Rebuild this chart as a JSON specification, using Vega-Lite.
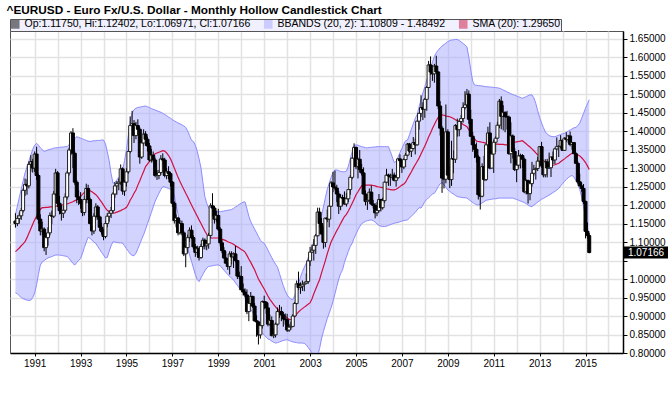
{
"$schema": "https://vega.github.io/schema/vega-lite/v6.json",
"width": 613, "height": 322,
"autosize": {"type": "none"},
"padding": {"left": 10, "top": 31, "right": 47, "bottom": 40},
"background": "white",
"title": {"text": "^EURUSD - Euro Fx/U.S. Dollar - Monthly Hollow Candlestick Chart", "anchor": "start", "font": "Liberation Sans", "fontSize": 11.8, "fontWeight": "bold", "color": "#000000", "offset": 2, "dx": -3},
"data": {"format": {"parse": {"d": "utc:'%Y-%m'"}}, "values": [
{"d":"1990-03","o":1.157,"h":1.178,"l":1.139,"c":1.150,"s":1.074,"u":1.174,"b":0.963},
{"d":"1990-04","o":1.150,"h":1.172,"l":1.143,"c":1.164,"s":1.079,"u":1.197,"b":0.960},
{"d":"1990-05","o":1.164,"h":1.180,"l":1.150,"c":1.171,"s":1.084,"u":1.220,"b":0.955},
{"d":"1990-06","o":1.171,"h":1.192,"l":1.160,"c":1.185,"s":1.090,"u":1.243,"b":0.950},
{"d":"1990-07","o":1.185,"h":1.245,"l":1.180,"c":1.240,"s":1.095,"u":1.265,"b":0.947},
{"d":"1990-08","o":1.240,"h":1.272,"l":1.225,"c":1.256,"s":1.101,"u":1.287,"b":0.945},
{"d":"1990-09","o":1.256,"h":1.270,"l":1.228,"c":1.252,"s":1.112,"u":1.303,"b":0.943},
{"d":"1990-10","o":1.252,"h":1.318,"l":1.245,"c":1.310,"s":1.124,"u":1.319,"b":0.942},
{"d":"1990-11","o":1.310,"h":1.335,"l":1.290,"c":1.318,"s":1.136,"u":1.335,"b":0.943},
{"d":"1990-12","o":1.318,"h":1.325,"l":1.288,"c":1.300,"s":1.148,"u":1.351,"b":0.950},
{"d":"1991-01","o":1.300,"h":1.345,"l":1.290,"c":1.338,"s":1.160,"u":1.362,"b":0.962},
{"d":"1991-02","o":1.338,"h":1.358,"l":1.268,"c":1.280,"s":1.170,"u":1.367,"b":0.985},
{"d":"1991-03","o":1.280,"h":1.285,"l":1.150,"c":1.162,"s":1.180,"u":1.362,"b":1.012},
{"d":"1991-04","o":1.162,"h":1.175,"l":1.118,"c":1.130,"s":1.189,"u":1.355,"b":1.038},
{"d":"1991-05","o":1.130,"h":1.155,"l":1.118,"c":1.135,"s":1.193,"u":1.350,"b":1.046},
{"d":"1991-06","o":1.135,"h":1.140,"l":1.075,"c":1.085,"s":1.193,"u":1.345,"b":1.050},
{"d":"1991-07","o":1.085,"h":1.118,"l":1.065,"c":1.112,"s":1.194,"u":1.347,"b":1.054},
{"d":"1991-08","o":1.112,"h":1.140,"l":1.090,"c":1.125,"s":1.194,"u":1.349,"b":1.057},
{"d":"1991-09","o":1.125,"h":1.180,"l":1.118,"c":1.172,"s":1.195,"u":1.351,"b":1.059},
{"d":"1991-10","o":1.172,"h":1.185,"l":1.148,"c":1.170,"s":1.195,"u":1.352,"b":1.061},
{"d":"1991-11","o":1.170,"h":1.238,"l":1.165,"c":1.230,"s":1.196,"u":1.354,"b":1.063},
{"d":"1991-12","o":1.230,"h":1.298,"l":1.225,"c":1.287,"s":1.197,"u":1.355,"b":1.065},
{"d":"1992-01","o":1.287,"h":1.292,"l":1.195,"c":1.205,"s":1.198,"u":1.355,"b":1.065},
{"d":"1992-02","o":1.205,"h":1.225,"l":1.175,"c":1.185,"s":1.199,"u":1.356,"b":1.065},
{"d":"1992-03","o":1.185,"h":1.200,"l":1.158,"c":1.178,"s":1.200,"u":1.357,"b":1.064},
{"d":"1992-04","o":1.178,"h":1.198,"l":1.165,"c":1.186,"s":1.201,"u":1.357,"b":1.063},
{"d":"1992-05","o":1.186,"h":1.232,"l":1.180,"c":1.222,"s":1.202,"u":1.358,"b":1.062},
{"d":"1992-06","o":1.222,"h":1.292,"l":1.215,"c":1.287,"s":1.203,"u":1.358,"b":1.061},
{"d":"1992-07","o":1.287,"h":1.355,"l":1.280,"c":1.349,"s":1.205,"u":1.363,"b":1.056},
{"d":"1992-08","o":1.349,"h":1.400,"l":1.335,"c":1.395,"s":1.207,"u":1.369,"b":1.049},
{"d":"1992-09","o":1.395,"h":1.408,"l":1.300,"c":1.340,"s":1.209,"u":1.375,"b":1.042},
{"d":"1992-10","o":1.340,"h":1.345,"l":1.255,"c":1.262,"s":1.212,"u":1.380,"b":1.038},
{"d":"1992-11","o":1.262,"h":1.268,"l":1.205,"c":1.222,"s":1.214,"u":1.385,"b":1.045},
{"d":"1992-12","o":1.222,"h":1.240,"l":1.200,"c":1.215,"s":1.219,"u":1.383,"b":1.050},
{"d":"1993-01","o":1.215,"h":1.235,"l":1.190,"c":1.205,"s":1.224,"u":1.381,"b":1.056},
{"d":"1993-02","o":1.205,"h":1.212,"l":1.170,"c":1.180,"s":1.229,"u":1.379,"b":1.070},
{"d":"1993-03","o":1.180,"h":1.225,"l":1.172,"c":1.215,"s":1.234,"u":1.377,"b":1.085},
{"d":"1993-04","o":1.215,"h":1.258,"l":1.205,"c":1.245,"s":1.240,"u":1.375,"b":1.100},
{"d":"1993-05","o":1.245,"h":1.255,"l":1.205,"c":1.215,"s":1.241,"u":1.373,"b":1.113},
{"d":"1993-06","o":1.215,"h":1.220,"l":1.148,"c":1.150,"s":1.239,"u":1.372,"b":1.110},
{"d":"1993-07","o":1.150,"h":1.160,"l":1.118,"c":1.130,"s":1.236,"u":1.373,"b":1.105},
{"d":"1993-08","o":1.130,"h":1.178,"l":1.122,"c":1.170,"s":1.232,"u":1.374,"b":1.100},
{"d":"1993-09","o":1.170,"h":1.205,"l":1.160,"c":1.195,"s":1.228,"u":1.374,"b":1.096},
{"d":"1993-10","o":1.195,"h":1.200,"l":1.160,"c":1.168,"s":1.222,"u":1.375,"b":1.088},
{"d":"1993-11","o":1.168,"h":1.172,"l":1.130,"c":1.140,"s":1.215,"u":1.375,"b":1.080},
{"d":"1993-12","o":1.140,"h":1.152,"l":1.120,"c":1.128,"s":1.208,"u":1.376,"b":1.072},
{"d":"1994-01","o":1.128,"h":1.135,"l":1.105,"c":1.115,"s":1.200,"u":1.376,"b":1.065},
{"d":"1994-02","o":1.115,"h":1.158,"l":1.110,"c":1.150,"s":1.192,"u":1.365,"b":1.057},
{"d":"1994-03","o":1.150,"h":1.178,"l":1.140,"c":1.170,"s":1.186,"u":1.345,"b":1.058},
{"d":"1994-04","o":1.170,"h":1.185,"l":1.155,"c":1.178,"s":1.182,"u":1.320,"b":1.075},
{"d":"1994-05","o":1.178,"h":1.195,"l":1.165,"c":1.185,"s":1.180,"u":1.285,"b":1.090},
{"d":"1994-06","o":1.185,"h":1.235,"l":1.178,"c":1.230,"s":1.178,"u":1.259,"b":1.101},
{"d":"1994-07","o":1.230,"h":1.262,"l":1.220,"c":1.252,"s":1.179,"u":1.262,"b":1.100},
{"d":"1994-08","o":1.252,"h":1.265,"l":1.228,"c":1.258,"s":1.181,"u":1.268,"b":1.099},
{"d":"1994-09","o":1.258,"h":1.272,"l":1.240,"c":1.262,"s":1.183,"u":1.275,"b":1.098},
{"d":"1994-10","o":1.262,"h":1.310,"l":1.255,"c":1.298,"s":1.185,"u":1.282,"b":1.098},
{"d":"1994-11","o":1.298,"h":1.302,"l":1.228,"c":1.238,"s":1.188,"u":1.295,"b":1.097},
{"d":"1994-12","o":1.238,"h":1.268,"l":1.225,"c":1.262,"s":1.190,"u":1.320,"b":1.090},
{"d":"1995-01","o":1.262,"h":1.300,"l":1.250,"c":1.290,"s":1.194,"u":1.350,"b":1.082},
{"d":"1995-02","o":1.290,"h":1.352,"l":1.285,"c":1.345,"s":1.203,"u":1.390,"b":1.075},
{"d":"1995-03","o":1.345,"h":1.440,"l":1.340,"c":1.415,"s":1.213,"u":1.425,"b":1.068},
{"d":"1995-04","o":1.415,"h":1.455,"l":1.395,"c":1.420,"s":1.222,"u":1.448,"b":1.064},
{"d":"1995-05","o":1.420,"h":1.430,"l":1.368,"c":1.388,"s":1.232,"u":1.458,"b":1.063},
{"d":"1995-06","o":1.388,"h":1.425,"l":1.378,"c":1.415,"s":1.241,"u":1.462,"b":1.070},
{"d":"1995-07","o":1.415,"h":1.432,"l":1.395,"c":1.405,"s":1.254,"u":1.464,"b":1.082},
{"d":"1995-08","o":1.405,"h":1.410,"l":1.312,"c":1.330,"s":1.266,"u":1.465,"b":1.095},
{"d":"1995-09","o":1.330,"h":1.378,"l":1.325,"c":1.368,"s":1.279,"u":1.466,"b":1.108},
{"d":"1995-10","o":1.368,"h":1.405,"l":1.360,"c":1.392,"s":1.291,"u":1.467,"b":1.120},
{"d":"1995-11","o":1.392,"h":1.400,"l":1.360,"c":1.378,"s":1.304,"u":1.468,"b":1.135},
{"d":"1995-12","o":1.378,"h":1.385,"l":1.345,"c":1.360,"s":1.311,"u":1.466,"b":1.150},
{"d":"1996-01","o":1.360,"h":1.368,"l":1.318,"c":1.322,"s":1.318,"u":1.464,"b":1.165},
{"d":"1996-02","o":1.322,"h":1.352,"l":1.315,"c":1.335,"s":1.325,"u":1.461,"b":1.180},
{"d":"1996-03","o":1.335,"h":1.345,"l":1.315,"c":1.322,"s":1.332,"u":1.459,"b":1.195},
{"d":"1996-04","o":1.322,"h":1.328,"l":1.275,"c":1.280,"s":1.339,"u":1.457,"b":1.210},
{"d":"1996-05","o":1.280,"h":1.295,"l":1.268,"c":1.280,"s":1.341,"u":1.455,"b":1.221},
{"d":"1996-06","o":1.280,"h":1.295,"l":1.270,"c":1.288,"s":1.343,"u":1.453,"b":1.232},
{"d":"1996-07","o":1.288,"h":1.335,"l":1.282,"c":1.325,"s":1.345,"u":1.451,"b":1.242},
{"d":"1996-08","o":1.325,"h":1.340,"l":1.310,"c":1.322,"s":1.347,"u":1.448,"b":1.250},
{"d":"1996-09","o":1.322,"h":1.328,"l":1.275,"c":1.280,"s":1.346,"u":1.445,"b":1.249},
{"d":"1996-10","o":1.280,"h":1.300,"l":1.270,"c":1.290,"s":1.341,"u":1.442,"b":1.247},
{"d":"1996-11","o":1.290,"h":1.305,"l":1.270,"c":1.285,"s":1.334,"u":1.438,"b":1.245},
{"d":"1996-12","o":1.285,"h":1.290,"l":1.250,"c":1.262,"s":1.325,"u":1.435,"b":1.243},
{"d":"1997-01","o":1.262,"h":1.265,"l":1.195,"c":1.205,"s":1.313,"u":1.431,"b":1.241},
{"d":"1997-02","o":1.205,"h":1.210,"l":1.150,"c":1.158,"s":1.300,"u":1.428,"b":1.225},
{"d":"1997-03","o":1.158,"h":1.175,"l":1.140,"c":1.165,"s":1.288,"u":1.425,"b":1.200},
{"d":"1997-04","o":1.165,"h":1.168,"l":1.118,"c":1.125,"s":1.275,"u":1.422,"b":1.175},
{"d":"1997-05","o":1.125,"h":1.160,"l":1.120,"c":1.150,"s":1.264,"u":1.420,"b":1.150},
{"d":"1997-06","o":1.150,"h":1.158,"l":1.118,"c":1.125,"s":1.253,"u":1.417,"b":1.135},
{"d":"1997-07","o":1.125,"h":1.130,"l":1.062,"c":1.068,"s":1.243,"u":1.414,"b":1.124},
{"d":"1997-08","o":1.068,"h":1.090,"l":1.032,"c":1.085,"s":1.232,"u":1.410,"b":1.105},
{"d":"1997-09","o":1.085,"h":1.120,"l":1.070,"c":1.112,"s":1.222,"u":1.400,"b":1.085},
{"d":"1997-10","o":1.112,"h":1.140,"l":1.100,"c":1.132,"s":1.211,"u":1.388,"b":1.065},
{"d":"1997-11","o":1.132,"h":1.145,"l":1.108,"c":1.112,"s":1.200,"u":1.375,"b":1.048},
{"d":"1997-12","o":1.112,"h":1.118,"l":1.080,"c":1.087,"s":1.190,"u":1.372,"b":1.030},
{"d":"1998-01","o":1.087,"h":1.095,"l":1.060,"c":1.072,"s":1.180,"u":1.362,"b":1.012},
{"d":"1998-02","o":1.072,"h":1.090,"l":1.065,"c":1.082,"s":1.170,"u":1.345,"b":0.998},
{"d":"1998-03","o":1.082,"h":1.088,"l":1.050,"c":1.058,"s":1.160,"u":1.325,"b":0.993},
{"d":"1998-04","o":1.058,"h":1.095,"l":1.055,"c":1.088,"s":1.150,"u":1.300,"b":1.003},
{"d":"1998-05","o":1.088,"h":1.112,"l":1.080,"c":1.105,"s":1.140,"u":1.262,"b":1.013},
{"d":"1998-06","o":1.105,"h":1.110,"l":1.080,"c":1.090,"s":1.130,"u":1.223,"b":1.022},
{"d":"1998-07","o":1.090,"h":1.105,"l":1.078,"c":1.095,"s":1.121,"u":1.205,"b":1.030},
{"d":"1998-08","o":1.095,"h":1.125,"l":1.082,"c":1.118,"s":1.111,"u":1.192,"b":1.034},
{"d":"1998-09","o":1.118,"h":1.205,"l":1.110,"c":1.198,"s":1.111,"u":1.185,"b":1.035},
{"d":"1998-10","o":1.198,"h":1.232,"l":1.170,"c":1.192,"s":1.111,"u":1.182,"b":1.036},
{"d":"1998-11","o":1.192,"h":1.198,"l":1.150,"c":1.162,"s":1.111,"u":1.182,"b":1.037},
{"d":"1998-12","o":1.162,"h":1.185,"l":1.155,"c":1.172,"s":1.111,"u":1.182,"b":1.038},
{"d":"1999-01","o":1.172,"h":1.190,"l":1.130,"c":1.135,"s":1.111,"u":1.182,"b":1.038},
{"d":"1999-02","o":1.135,"h":1.140,"l":1.090,"c":1.098,"s":1.110,"u":1.182,"b":1.036},
{"d":"1999-03","o":1.098,"h":1.105,"l":1.070,"c":1.077,"s":1.108,"u":1.183,"b":1.030},
{"d":"1999-04","o":1.077,"h":1.086,"l":1.055,"c":1.057,"s":1.106,"u":1.184,"b":1.024},
{"d":"1999-05","o":1.057,"h":1.075,"l":1.042,"c":1.043,"s":1.104,"u":1.185,"b":1.018},
{"d":"1999-06","o":1.043,"h":1.055,"l":1.025,"c":1.034,"s":1.101,"u":1.186,"b":1.012},
{"d":"1999-07","o":1.034,"h":1.075,"l":1.012,"c":1.068,"s":1.099,"u":1.187,"b":1.007},
{"d":"1999-08","o":1.068,"h":1.075,"l":1.040,"c":1.060,"s":1.097,"u":1.188,"b":1.003},
{"d":"1999-09","o":1.060,"h":1.072,"l":1.030,"c":1.068,"s":1.094,"u":1.191,"b":0.997},
{"d":"1999-10","o":1.068,"h":1.090,"l":1.045,"c":1.050,"s":1.090,"u":1.195,"b":0.990},
{"d":"1999-11","o":1.050,"h":1.052,"l":1.000,"c":1.008,"s":1.087,"u":1.198,"b":0.983},
{"d":"1999-12","o":1.008,"h":1.020,"l":1.000,"c":1.007,"s":1.084,"u":1.202,"b":0.976},
{"d":"2000-01","o":1.007,"h":1.035,"l":0.970,"c":0.971,"s":1.080,"u":1.205,"b":0.971},
{"d":"2000-02","o":0.971,"h":0.988,"l":0.956,"c":0.965,"s":1.077,"u":1.208,"b":0.962},
{"d":"2000-03","o":0.965,"h":0.975,"l":0.952,"c":0.957,"s":1.073,"u":1.209,"b":0.950},
{"d":"2000-04","o":0.957,"h":0.972,"l":0.905,"c":0.912,"s":1.064,"u":1.190,"b":0.935},
{"d":"2000-05","o":0.912,"h":0.935,"l":0.886,"c":0.934,"s":1.054,"u":1.170,"b":0.925},
{"d":"2000-06","o":0.934,"h":0.965,"l":0.925,"c":0.953,"s":1.045,"u":1.155,"b":0.918},
{"d":"2000-07","o":0.953,"h":0.955,"l":0.922,"c":0.927,"s":1.035,"u":1.145,"b":0.910},
{"d":"2000-08","o":0.927,"h":0.935,"l":0.886,"c":0.887,"s":1.025,"u":1.135,"b":0.900},
{"d":"2000-09","o":0.887,"h":0.902,"l":0.844,"c":0.884,"s":1.012,"u":1.125,"b":0.890},
{"d":"2000-10","o":0.884,"h":0.887,"l":0.823,"c":0.849,"s":1.000,"u":1.115,"b":0.878},
{"d":"2000-11","o":0.849,"h":0.877,"l":0.839,"c":0.874,"s":0.991,"u":1.105,"b":0.865},
{"d":"2000-12","o":0.874,"h":0.942,"l":0.866,"c":0.939,"s":0.982,"u":1.100,"b":0.855},
{"d":"2001-01","o":0.939,"h":0.955,"l":0.918,"c":0.937,"s":0.973,"u":1.097,"b":0.848},
{"d":"2001-02","o":0.937,"h":0.940,"l":0.906,"c":0.922,"s":0.963,"u":1.088,"b":0.843},
{"d":"2001-03","o":0.922,"h":0.935,"l":0.872,"c":0.878,"s":0.954,"u":1.078,"b":0.838},
{"d":"2001-04","o":0.878,"h":0.904,"l":0.874,"c":0.888,"s":0.945,"u":1.068,"b":0.836},
{"d":"2001-05","o":0.888,"h":0.899,"l":0.845,"c":0.847,"s":0.938,"u":1.058,"b":0.832},
{"d":"2001-06","o":0.847,"h":0.868,"l":0.840,"c":0.849,"s":0.931,"u":1.048,"b":0.829},
{"d":"2001-07","o":0.849,"h":0.882,"l":0.842,"c":0.878,"s":0.925,"u":1.040,"b":0.827},
{"d":"2001-08","o":0.878,"h":0.923,"l":0.874,"c":0.912,"s":0.919,"u":1.032,"b":0.828},
{"d":"2001-09","o":0.912,"h":0.930,"l":0.895,"c":0.912,"s":0.913,"u":1.015,"b":0.830},
{"d":"2001-10","o":0.912,"h":0.925,"l":0.886,"c":0.903,"s":0.909,"u":0.998,"b":0.832},
{"d":"2001-11","o":0.903,"h":0.911,"l":0.871,"c":0.892,"s":0.904,"u":0.982,"b":0.834},
{"d":"2001-12","o":0.892,"h":0.907,"l":0.877,"c":0.890,"s":0.899,"u":0.968,"b":0.835},
{"d":"2002-01","o":0.890,"h":0.906,"l":0.857,"c":0.862,"s":0.895,"u":0.957,"b":0.836},
{"d":"2002-02","o":0.862,"h":0.878,"l":0.857,"c":0.870,"s":0.891,"u":0.950,"b":0.834},
{"d":"2002-03","o":0.870,"h":0.885,"l":0.863,"c":0.872,"s":0.890,"u":0.946,"b":0.832},
{"d":"2002-04","o":0.872,"h":0.905,"l":0.870,"c":0.900,"s":0.893,"u":0.944,"b":0.830},
{"d":"2002-05","o":0.900,"h":0.938,"l":0.897,"c":0.934,"s":0.898,"u":0.955,"b":0.829},
{"d":"2002-06","o":0.934,"h":0.996,"l":0.931,"c":0.987,"s":0.905,"u":0.970,"b":0.828},
{"d":"2002-07","o":0.987,"h":1.020,"l":0.970,"c":0.977,"s":0.911,"u":0.988,"b":0.827},
{"d":"2002-08","o":0.977,"h":0.991,"l":0.960,"c":0.981,"s":0.916,"u":1.005,"b":0.827},
{"d":"2002-09","o":0.981,"h":0.996,"l":0.968,"c":0.986,"s":0.920,"u":1.020,"b":0.827},
{"d":"2002-10","o":0.986,"h":0.992,"l":0.967,"c":0.989,"s":0.924,"u":1.032,"b":0.826},
{"d":"2002-11","o":0.989,"h":1.015,"l":0.986,"c":0.993,"s":0.928,"u":1.043,"b":0.822},
{"d":"2002-12","o":0.993,"h":1.052,"l":0.987,"c":1.049,"s":0.932,"u":1.058,"b":0.815},
{"d":"2003-01","o":1.049,"h":1.087,"l":1.035,"c":1.073,"s":0.936,"u":1.072,"b":0.808},
{"d":"2003-02","o":1.073,"h":1.093,"l":1.070,"c":1.078,"s":0.947,"u":1.087,"b":0.800},
{"d":"2003-03","o":1.078,"h":1.108,"l":1.050,"c":1.091,"s":0.960,"u":1.101,"b":0.793},
{"d":"2003-04","o":1.091,"h":1.122,"l":1.068,"c":1.117,"s":0.973,"u":1.115,"b":0.790},
{"d":"2003-05","o":1.117,"h":1.193,"l":1.116,"c":1.181,"s":0.986,"u":1.130,"b":0.793},
{"d":"2003-06","o":1.181,"h":1.193,"l":1.140,"c":1.150,"s":0.998,"u":1.144,"b":0.812},
{"d":"2003-07","o":1.150,"h":1.165,"l":1.120,"c":1.122,"s":1.016,"u":1.170,"b":0.838},
{"d":"2003-08","o":1.122,"h":1.142,"l":1.082,"c":1.099,"s":1.033,"u":1.195,"b":0.858},
{"d":"2003-09","o":1.099,"h":1.165,"l":1.086,"c":1.165,"s":1.050,"u":1.220,"b":0.876},
{"d":"2003-10","o":1.165,"h":1.188,"l":1.154,"c":1.162,"s":1.068,"u":1.242,"b":0.893},
{"d":"2003-11","o":1.162,"h":1.200,"l":1.140,"c":1.197,"s":1.085,"u":1.259,"b":0.908},
{"d":"2003-12","o":1.197,"h":1.265,"l":1.195,"c":1.260,"s":1.100,"u":1.275,"b":0.922},
{"d":"2004-01","o":1.260,"h":1.290,"l":1.235,"c":1.249,"s":1.111,"u":1.288,"b":0.940},
{"d":"2004-02","o":1.249,"h":1.293,"l":1.240,"c":1.246,"s":1.121,"u":1.295,"b":0.960},
{"d":"2004-03","o":1.246,"h":1.255,"l":1.208,"c":1.230,"s":1.131,"u":1.295,"b":0.980},
{"d":"2004-04","o":1.230,"h":1.238,"l":1.176,"c":1.197,"s":1.140,"u":1.293,"b":1.000},
{"d":"2004-05","o":1.197,"h":1.229,"l":1.186,"c":1.220,"s":1.150,"u":1.291,"b":1.015},
{"d":"2004-06","o":1.220,"h":1.228,"l":1.197,"c":1.219,"s":1.160,"u":1.290,"b":1.025},
{"d":"2004-07","o":1.219,"h":1.237,"l":1.201,"c":1.203,"s":1.169,"u":1.290,"b":1.045},
{"d":"2004-08","o":1.203,"h":1.233,"l":1.196,"c":1.217,"s":1.175,"u":1.292,"b":1.060},
{"d":"2004-09","o":1.217,"h":1.243,"l":1.208,"c":1.242,"s":1.184,"u":1.305,"b":1.075},
{"d":"2004-10","o":1.242,"h":1.281,"l":1.228,"c":1.275,"s":1.194,"u":1.325,"b":1.088},
{"d":"2004-11","o":1.275,"h":1.330,"l":1.270,"c":1.327,"s":1.205,"u":1.345,"b":1.097},
{"d":"2004-12","o":1.327,"h":1.367,"l":1.321,"c":1.356,"s":1.216,"u":1.360,"b":1.110},
{"d":"2005-01","o":1.356,"h":1.358,"l":1.297,"c":1.304,"s":1.228,"u":1.363,"b":1.122},
{"d":"2005-02","o":1.304,"h":1.328,"l":1.272,"c":1.324,"s":1.236,"u":1.362,"b":1.133},
{"d":"2005-03","o":1.324,"h":1.349,"l":1.288,"c":1.296,"s":1.244,"u":1.360,"b":1.142},
{"d":"2005-04","o":1.296,"h":1.312,"l":1.280,"c":1.287,"s":1.252,"u":1.358,"b":1.150},
{"d":"2005-05","o":1.287,"h":1.302,"l":1.229,"c":1.230,"s":1.254,"u":1.357,"b":1.153},
{"d":"2005-06","o":1.230,"h":1.240,"l":1.199,"c":1.210,"s":1.254,"u":1.355,"b":1.156},
{"d":"2005-07","o":1.210,"h":1.229,"l":1.187,"c":1.213,"s":1.254,"u":1.355,"b":1.158},
{"d":"2005-08","o":1.213,"h":1.245,"l":1.213,"c":1.235,"s":1.254,"u":1.356,"b":1.159},
{"d":"2005-09","o":1.235,"h":1.253,"l":1.200,"c":1.203,"s":1.254,"u":1.356,"b":1.160},
{"d":"2005-10","o":1.203,"h":1.214,"l":1.191,"c":1.199,"s":1.253,"u":1.357,"b":1.158},
{"d":"2005-11","o":1.199,"h":1.205,"l":1.164,"c":1.179,"s":1.252,"u":1.357,"b":1.154},
{"d":"2005-12","o":1.179,"h":1.208,"l":1.170,"c":1.185,"s":1.250,"u":1.358,"b":1.149},
{"d":"2006-01","o":1.185,"h":1.230,"l":1.180,"c":1.215,"s":1.249,"u":1.358,"b":1.145},
{"d":"2006-02","o":1.215,"h":1.217,"l":1.183,"c":1.193,"s":1.248,"u":1.358,"b":1.143},
{"d":"2006-03","o":1.193,"h":1.220,"l":1.188,"c":1.212,"s":1.247,"u":1.358,"b":1.142},
{"d":"2006-04","o":1.212,"h":1.264,"l":1.205,"c":1.262,"s":1.246,"u":1.358,"b":1.142},
{"d":"2006-05","o":1.262,"h":1.298,"l":1.259,"c":1.281,"s":1.244,"u":1.358,"b":1.143},
{"d":"2006-06","o":1.281,"h":1.285,"l":1.252,"c":1.279,"s":1.243,"u":1.358,"b":1.145},
{"d":"2006-07","o":1.279,"h":1.285,"l":1.252,"c":1.276,"s":1.242,"u":1.345,"b":1.147},
{"d":"2006-08","o":1.276,"h":1.298,"l":1.269,"c":1.281,"s":1.241,"u":1.330,"b":1.149},
{"d":"2006-09","o":1.281,"h":1.288,"l":1.264,"c":1.267,"s":1.241,"u":1.315,"b":1.151},
{"d":"2006-10","o":1.267,"h":1.280,"l":1.250,"c":1.274,"s":1.243,"u":1.318,"b":1.152},
{"d":"2006-11","o":1.274,"h":1.326,"l":1.271,"c":1.325,"s":1.246,"u":1.330,"b":1.153},
{"d":"2006-12","o":1.325,"h":1.337,"l":1.312,"c":1.320,"s":1.250,"u":1.342,"b":1.155},
{"d":"2007-01","o":1.320,"h":1.324,"l":1.287,"c":1.303,"s":1.254,"u":1.353,"b":1.157},
{"d":"2007-02","o":1.303,"h":1.327,"l":1.297,"c":1.323,"s":1.257,"u":1.365,"b":1.158},
{"d":"2007-03","o":1.323,"h":1.341,"l":1.303,"c":1.335,"s":1.262,"u":1.374,"b":1.159},
{"d":"2007-04","o":1.335,"h":1.368,"l":1.332,"c":1.365,"s":1.272,"u":1.376,"b":1.160},
{"d":"2007-05","o":1.365,"h":1.368,"l":1.340,"c":1.346,"s":1.281,"u":1.390,"b":1.165},
{"d":"2007-06","o":1.346,"h":1.354,"l":1.330,"c":1.353,"s":1.290,"u":1.405,"b":1.170},
{"d":"2007-07","o":1.353,"h":1.384,"l":1.351,"c":1.369,"s":1.300,"u":1.420,"b":1.175},
{"d":"2007-08","o":1.369,"h":1.380,"l":1.337,"c":1.363,"s":1.309,"u":1.434,"b":1.180},
{"d":"2007-09","o":1.363,"h":1.428,"l":1.361,"c":1.427,"s":1.318,"u":1.445,"b":1.187},
{"d":"2007-10","o":1.427,"h":1.450,"l":1.404,"c":1.448,"s":1.327,"u":1.465,"b":1.193},
{"d":"2007-11","o":1.448,"h":1.497,"l":1.438,"c":1.464,"s":1.338,"u":1.485,"b":1.192},
{"d":"2007-12","o":1.464,"h":1.478,"l":1.430,"c":1.459,"s":1.349,"u":1.503,"b":1.200},
{"d":"2008-01","o":1.459,"h":1.490,"l":1.436,"c":1.486,"s":1.360,"u":1.520,"b":1.210},
{"d":"2008-02","o":1.486,"h":1.522,"l":1.455,"c":1.518,"s":1.372,"u":1.538,"b":1.215},
{"d":"2008-03","o":1.518,"h":1.590,"l":1.517,"c":1.579,"s":1.384,"u":1.553,"b":1.220},
{"d":"2008-04","o":1.579,"h":1.602,"l":1.552,"c":1.560,"s":1.395,"u":1.570,"b":1.225},
{"d":"2008-05","o":1.560,"h":1.578,"l":1.536,"c":1.555,"s":1.407,"u":1.586,"b":1.230},
{"d":"2008-06","o":1.555,"h":1.582,"l":1.531,"c":1.576,"s":1.418,"u":1.602,"b":1.232},
{"d":"2008-07","o":1.576,"h":1.604,"l":1.555,"c":1.560,"s":1.428,"u":1.612,"b":1.240},
{"d":"2008-08","o":1.560,"h":1.562,"l":1.459,"c":1.468,"s":1.437,"u":1.619,"b":1.250},
{"d":"2008-09","o":1.468,"h":1.481,"l":1.388,"c":1.408,"s":1.444,"u":1.625,"b":1.258},
{"d":"2008-10","o":1.408,"h":1.414,"l":1.233,"c":1.273,"s":1.444,"u":1.630,"b":1.260},
{"d":"2008-11","o":1.273,"h":1.308,"l":1.245,"c":1.270,"s":1.443,"u":1.634,"b":1.255},
{"d":"2008-12","o":1.270,"h":1.472,"l":1.259,"c":1.398,"s":1.441,"u":1.638,"b":1.248},
{"d":"2009-01","o":1.398,"h":1.405,"l":1.275,"c":1.281,"s":1.440,"u":1.642,"b":1.241},
{"d":"2009-02","o":1.281,"h":1.305,"l":1.246,"c":1.269,"s":1.439,"u":1.645,"b":1.237},
{"d":"2009-03","o":1.269,"h":1.374,"l":1.252,"c":1.325,"s":1.437,"u":1.646,"b":1.233},
{"d":"2009-04","o":1.325,"h":1.348,"l":1.286,"c":1.324,"s":1.434,"u":1.647,"b":1.230},
{"d":"2009-05","o":1.324,"h":1.419,"l":1.314,"c":1.415,"s":1.431,"u":1.648,"b":1.226},
{"d":"2009-06","o":1.415,"h":1.434,"l":1.385,"c":1.404,"s":1.428,"u":1.648,"b":1.223},
{"d":"2009-07","o":1.404,"h":1.430,"l":1.386,"c":1.426,"s":1.425,"u":1.645,"b":1.222},
{"d":"2009-08","o":1.426,"h":1.444,"l":1.405,"c":1.434,"s":1.422,"u":1.641,"b":1.221},
{"d":"2009-09","o":1.434,"h":1.478,"l":1.423,"c":1.464,"s":1.418,"u":1.637,"b":1.220},
{"d":"2009-10","o":1.464,"h":1.508,"l":1.459,"c":1.471,"s":1.415,"u":1.633,"b":1.220},
{"d":"2009-11","o":1.471,"h":1.514,"l":1.466,"c":1.500,"s":1.412,"u":1.628,"b":1.219},
{"d":"2009-12","o":1.500,"h":1.510,"l":1.420,"c":1.432,"s":1.404,"u":1.600,"b":1.215},
{"d":"2010-01","o":1.432,"h":1.458,"l":1.385,"c":1.386,"s":1.396,"u":1.565,"b":1.211},
{"d":"2010-02","o":1.386,"h":1.398,"l":1.344,"c":1.363,"s":1.388,"u":1.535,"b":1.207},
{"d":"2010-03","o":1.363,"h":1.381,"l":1.327,"c":1.351,"s":1.380,"u":1.525,"b":1.204},
{"d":"2010-04","o":1.351,"h":1.369,"l":1.315,"c":1.330,"s":1.373,"u":1.524,"b":1.201},
{"d":"2010-05","o":1.330,"h":1.335,"l":1.215,"c":1.228,"s":1.372,"u":1.523,"b":1.200},
{"d":"2010-06","o":1.228,"h":1.232,"l":1.188,"c":1.224,"s":1.371,"u":1.523,"b":1.203},
{"d":"2010-07","o":1.224,"h":1.313,"l":1.221,"c":1.304,"s":1.370,"u":1.522,"b":1.206},
{"d":"2010-08","o":1.304,"h":1.333,"l":1.265,"c":1.269,"s":1.369,"u":1.521,"b":1.209},
{"d":"2010-09","o":1.269,"h":1.365,"l":1.265,"c":1.363,"s":1.367,"u":1.520,"b":1.213},
{"d":"2010-10","o":1.363,"h":1.412,"l":1.361,"c":1.395,"s":1.367,"u":1.520,"b":1.214},
{"d":"2010-11","o":1.395,"h":1.424,"l":1.297,"c":1.300,"s":1.367,"u":1.519,"b":1.215},
{"d":"2010-12","o":1.300,"h":1.347,"l":1.300,"c":1.338,"s":1.366,"u":1.519,"b":1.216},
{"d":"2011-01","o":1.338,"h":1.377,"l":1.287,"c":1.370,"s":1.366,"u":1.518,"b":1.217},
{"d":"2011-02","o":1.370,"h":1.386,"l":1.343,"c":1.381,"s":1.365,"u":1.518,"b":1.217},
{"d":"2011-03","o":1.381,"h":1.425,"l":1.380,"c":1.416,"s":1.365,"u":1.517,"b":1.218},
{"d":"2011-04","o":1.416,"h":1.487,"l":1.408,"c":1.481,"s":1.364,"u":1.516,"b":1.219},
{"d":"2011-05","o":1.481,"h":1.494,"l":1.405,"c":1.440,"s":1.364,"u":1.514,"b":1.219},
{"d":"2011-06","o":1.440,"h":1.470,"l":1.402,"c":1.450,"s":1.364,"u":1.511,"b":1.219},
{"d":"2011-07","o":1.450,"h":1.454,"l":1.397,"c":1.439,"s":1.363,"u":1.509,"b":1.219},
{"d":"2011-08","o":1.439,"h":1.455,"l":1.404,"c":1.438,"s":1.363,"u":1.506,"b":1.219},
{"d":"2011-09","o":1.438,"h":1.442,"l":1.336,"c":1.339,"s":1.365,"u":1.504,"b":1.219},
{"d":"2011-10","o":1.339,"h":1.424,"l":1.313,"c":1.387,"s":1.367,"u":1.501,"b":1.219},
{"d":"2011-11","o":1.387,"h":1.391,"l":1.326,"c":1.345,"s":1.368,"u":1.499,"b":1.219},
{"d":"2011-12","o":1.345,"h":1.355,"l":1.292,"c":1.296,"s":1.370,"u":1.497,"b":1.217},
{"d":"2012-01","o":1.296,"h":1.323,"l":1.262,"c":1.308,"s":1.371,"u":1.495,"b":1.215},
{"d":"2012-02","o":1.308,"h":1.349,"l":1.298,"c":1.333,"s":1.372,"u":1.493,"b":1.213},
{"d":"2012-03","o":1.333,"h":1.339,"l":1.299,"c":1.334,"s":1.373,"u":1.491,"b":1.211},
{"d":"2012-04","o":1.334,"h":1.338,"l":1.300,"c":1.324,"s":1.374,"u":1.489,"b":1.209},
{"d":"2012-05","o":1.324,"h":1.328,"l":1.232,"c":1.236,"s":1.370,"u":1.491,"b":1.207},
{"d":"2012-06","o":1.236,"h":1.270,"l":1.229,"c":1.266,"s":1.366,"u":1.493,"b":1.204},
{"d":"2012-07","o":1.266,"h":1.269,"l":1.204,"c":1.231,"s":1.361,"u":1.496,"b":1.200},
{"d":"2012-08","o":1.231,"h":1.264,"l":1.213,"c":1.258,"s":1.357,"u":1.498,"b":1.197},
{"d":"2012-09","o":1.258,"h":1.317,"l":1.250,"c":1.286,"s":1.352,"u":1.498,"b":1.196},
{"d":"2012-10","o":1.286,"h":1.309,"l":1.280,"c":1.296,"s":1.347,"u":1.490,"b":1.200},
{"d":"2012-11","o":1.296,"h":1.302,"l":1.269,"c":1.299,"s":1.341,"u":1.475,"b":1.204},
{"d":"2012-12","o":1.299,"h":1.331,"l":1.292,"c":1.319,"s":1.336,"u":1.455,"b":1.208},
{"d":"2013-01","o":1.319,"h":1.359,"l":1.303,"c":1.358,"s":1.331,"u":1.437,"b":1.212},
{"d":"2013-02","o":1.358,"h":1.371,"l":1.301,"c":1.306,"s":1.326,"u":1.422,"b":1.216},
{"d":"2013-03","o":1.306,"h":1.313,"l":1.275,"c":1.282,"s":1.320,"u":1.410,"b":1.218},
{"d":"2013-04","o":1.282,"h":1.324,"l":1.275,"c":1.317,"s":1.315,"u":1.398,"b":1.221},
{"d":"2013-05","o":1.317,"h":1.325,"l":1.275,"c":1.300,"s":1.309,"u":1.392,"b":1.224},
{"d":"2013-06","o":1.300,"h":1.342,"l":1.298,"c":1.301,"s":1.304,"u":1.388,"b":1.227},
{"d":"2013-07","o":1.301,"h":1.331,"l":1.276,"c":1.330,"s":1.306,"u":1.386,"b":1.230},
{"d":"2013-08","o":1.330,"h":1.345,"l":1.311,"c":1.322,"s":1.308,"u":1.385,"b":1.234},
{"d":"2013-09","o":1.322,"h":1.355,"l":1.311,"c":1.352,"s":1.309,"u":1.385,"b":1.237},
{"d":"2013-10","o":1.352,"h":1.383,"l":1.348,"c":1.358,"s":1.311,"u":1.387,"b":1.241},
{"d":"2013-11","o":1.358,"h":1.362,"l":1.330,"c":1.359,"s":1.313,"u":1.389,"b":1.245},
{"d":"2013-12","o":1.359,"h":1.389,"l":1.353,"c":1.375,"s":1.317,"u":1.391,"b":1.252},
{"d":"2014-01","o":1.375,"h":1.377,"l":1.348,"c":1.348,"s":1.321,"u":1.393,"b":1.258},
{"d":"2014-02","o":1.348,"h":1.383,"l":1.347,"c":1.381,"s":1.325,"u":1.394,"b":1.264},
{"d":"2014-03","o":1.381,"h":1.397,"l":1.370,"c":1.377,"s":1.329,"u":1.397,"b":1.269},
{"d":"2014-04","o":1.377,"h":1.390,"l":1.368,"c":1.387,"s":1.333,"u":1.400,"b":1.274},
{"d":"2014-05","o":1.387,"h":1.399,"l":1.359,"c":1.364,"s":1.337,"u":1.403,"b":1.278},
{"d":"2014-06","o":1.364,"h":1.370,"l":1.350,"c":1.369,"s":1.340,"u":1.406,"b":1.280},
{"d":"2014-07","o":1.369,"h":1.370,"l":1.339,"c":1.339,"s":1.340,"u":1.409,"b":1.276},
{"d":"2014-08","o":1.339,"h":1.344,"l":1.313,"c":1.313,"s":1.338,"u":1.410,"b":1.266},
{"d":"2014-09","o":1.313,"h":1.318,"l":1.258,"c":1.263,"s":1.336,"u":1.415,"b":1.257},
{"d":"2014-10","o":1.263,"h":1.285,"l":1.251,"c":1.252,"s":1.333,"u":1.422,"b":1.243},
{"d":"2014-11","o":1.252,"h":1.261,"l":1.236,"c":1.245,"s":1.328,"u":1.435,"b":1.221},
{"d":"2014-12","o":1.245,"h":1.257,"l":1.203,"c":1.210,"s":1.322,"u":1.448,"b":1.196},
{"d":"2015-01","o":1.210,"h":1.212,"l":1.110,"c":1.129,"s":1.315,"u":1.462,"b":1.168},
{"d":"2015-02","o":1.129,"h":1.153,"l":1.110,"c":1.1175,"s":1.306,"u":1.474,"b":1.138},
{"d":"2015-03","o":1.1175,"h":1.12402,"l":1.06971,"c":1.07166,"s":1.2965,"u":1.48492,"b":1.10809}
]},
"encoding": {
  "x": {"field": "d", "type": "temporal", "title": null,
    "scale": {"type": "utc", "domain": [{"year": 1990, "month": 2, "date": 22, "utc": true}, {"year": 2016, "month": 6, "date": 1, "utc": true}]},
    "axis": {"orient": "bottom", "values": [
      {"year":1991,"month":1,"date":1,"utc":true},{"year":1992,"month":1,"date":1,"utc":true},{"year":1993,"month":1,"date":1,"utc":true},{"year":1994,"month":1,"date":1,"utc":true},{"year":1995,"month":1,"date":1,"utc":true},{"year":1996,"month":1,"date":1,"utc":true},{"year":1997,"month":1,"date":1,"utc":true},{"year":1998,"month":1,"date":1,"utc":true},{"year":1999,"month":1,"date":1,"utc":true},{"year":2000,"month":1,"date":1,"utc":true},{"year":2001,"month":1,"date":1,"utc":true},{"year":2002,"month":1,"date":1,"utc":true},{"year":2003,"month":1,"date":1,"utc":true},{"year":2004,"month":1,"date":1,"utc":true},{"year":2005,"month":1,"date":1,"utc":true},{"year":2006,"month":1,"date":1,"utc":true},{"year":2007,"month":1,"date":1,"utc":true},{"year":2008,"month":1,"date":1,"utc":true},{"year":2009,"month":1,"date":1,"utc":true},{"year":2010,"month":1,"date":1,"utc":true},{"year":2011,"month":1,"date":1,"utc":true},{"year":2012,"month":1,"date":1,"utc":true},{"year":2013,"month":1,"date":1,"utc":true},{"year":2014,"month":1,"date":1,"utc":true},{"year":2015,"month":1,"date":1,"utc":true},{"year":2016,"month":1,"date":1,"utc":true}],
      "labelExpr": "utcyear(datum.value) % 2 == 1 ? utcFormat(datum.value, '%Y') : ''",
      "tickOpacity": {"condition": {"test": "utcyear(datum.value) % 2 == 1", "value": 1}, "value": 0},
      "tickSize": 3, "labelPadding": 2, "domainWidth": 1.5, "labelFlush": false, "labelOverlap": false}
  }
},
"layer": [
  {"mark": {"type": "area", "opacity": 0.5, "clip": true},
   "encoding": {
     "y": {"field": "b", "type": "quantitative", "title": null,
       "scale": {"domain": [0.8, 1.6708], "nice": false, "zero": false},
       "axis": {"orient": "right", "values": [0.8,0.85,0.9,0.95,1.0,1.05,1.1,1.15,1.2,1.25,1.3,1.35,1.4,1.45,1.5,1.55,1.6,1.65],
         "labelExpr": "abs(datum.value - 1.05) < 0.001 ? '' : format(datum.value, '.5f')",
         "labelOverlap": false, "labelBound": false, "tickSize": 4, "labelPadding": 2, "domainWidth": 1.5}},
     "y2": {"field": "u"},
     "color": {"datum": "BBANDS (20, 2): 1.10809 - 1.48492", "type": "nominal",
       "scale": {"domain": ["Op:1.11750, Hi:1.12402, Lo:1.06971, Cl:1.07166", "BBANDS (20, 2): 1.10809 - 1.48492", "SMA (20): 1.29650"], "range": ["#000000", "#a8a8ff", "#d01040"]},
       "legend": {"orient": "top", "direction": "horizontal", "title": null, "offset": 0, "padding": 0,
         "fillColor": "#f0f0fe", "strokeColor": "#555555", "labelFont": "Liberation Sans", "labelFontSize": 10.5, "labelColor": "#000000",
         "labelLimit": 600, "labelOffset": 4, "columnPadding": 10, "symbolType": "square", "symbolSize": 50,
         "labelExpr": "datum.label == 'SMA (20): 1.29650' ? datum.label + '\u00a0\u00a0\u00a0\u00a0\u00a0\u00a0\u00a0\u00a0\u00a0\u00a0\u00a0\u00a0\u00a0\u00a0\u00a0\u00a0\u00a0\u00a0\u00a0\u00a0\u00a0\u00a0\u00a0\u00a0\u00a0\u00a0\u00a0\u00a0\u00a0\u00a0\u00a0\u00a0\u00a0\u00a0\u00a0\u00a0\u00a0\u00a0\u00a0\u00a0\u00a0\u00a0\u00a0\u00a0' : datum.label",
         "encode": {"symbols": {"update": {"fill": {"scale": "color", "field": "value"}, "stroke": {"value": "#333333"}, "strokeWidth": {"value": 1}, "opacity": {"value": 1}, "fillOpacity": {"value": 1}, "shape": {"value": "square"}}}}}}
   }},
  {"mark": {"type": "line", "color": "#8c8cff", "strokeWidth": 1, "clip": true},
   "encoding": {"y": {"field": "u", "type": "quantitative", "title": null}}},
  {"mark": {"type": "line", "color": "#8c8cff", "strokeWidth": 1, "clip": true},
   "encoding": {"y": {"field": "b", "type": "quantitative", "title": null}}},
  {"mark": {"type": "line", "strokeWidth": 1.2},
   "encoding": {"y": {"field": "s", "type": "quantitative", "title": null},
     "color": {"datum": "SMA (20): 1.29650", "type": "nominal"}}},
  {"mark": {"type": "rule", "strokeWidth": 1},
   "encoding": {"y": {"field": "l", "type": "quantitative", "title": null}, "y2": {"field": "h"},
     "color": {"datum": "Op:1.11750, Hi:1.12402, Lo:1.06971, Cl:1.07166", "type": "nominal"}}},
  {"mark": {"type": "bar", "width": 3, "strokeWidth": 1},
   "encoding": {"y": {"field": "o", "type": "quantitative", "title": null}, "y2": {"field": "c"},
     "fill": {"condition": {"test": "datum.c >= datum.o", "value": "#ffffff"}, "value": "#000000"},
     "stroke": {"condition": {"test": "datum.c >= datum.o", "value": "#222222"}, "value": "#000000"}}},
  {"data": {"values": [{"c": 1.07166}]},
   "mark": {"type": "point", "shape": "M-1.833,-0.5H1.833V0.5H-1.833Z", "size": 576, "filled": true, "color": "#000000", "opacity": 1, "xOffset": 23},
   "encoding": {"x": {"value": "width"},
     "y": {"field": "c", "type": "quantitative", "title": null}}},
  {"data": {"values": [{"c": 1.07166}]},
   "mark": {"type": "text", "color": "#ffffff", "font": "Liberation Sans", "fontSize": 10, "align": "center", "baseline": "middle", "dx": 23},
   "encoding": {"x": {"value": "width"},
     "y": {"field": "c", "type": "quantitative", "title": null},
     "text": {"field": "c", "type": "quantitative", "format": ".5f"}}}
],
"config": {
  "view": {"stroke": "#555555", "strokeWidth": 1},
  "axis": {"labelFont": "Liberation Sans", "labelFontSize": 10, "labelColor": "#000000", "domainColor": "#000000", "tickColor": "#000000", "gridColor": "#e2e2e2", "gridWidth": 1.5, "grid": true},
  "axisY": {"labelOverlap": false, "labelBound": false, "tickCount": 18}
}
}
